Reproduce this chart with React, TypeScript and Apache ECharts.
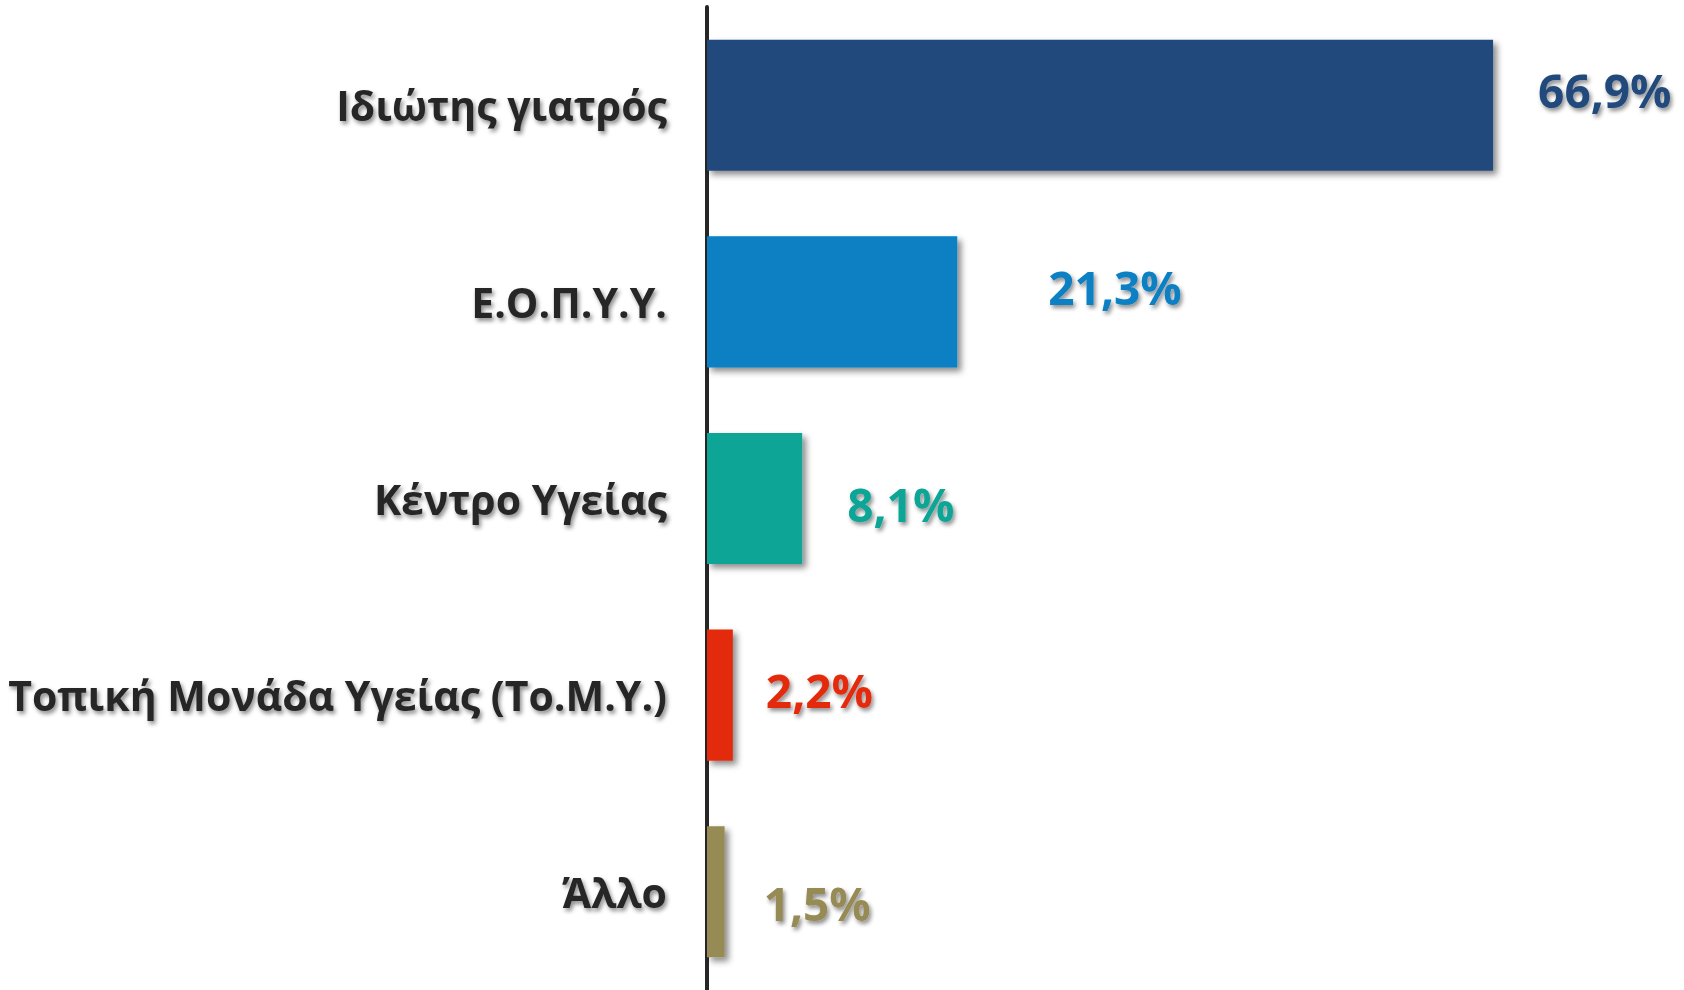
import React, { useEffect, useRef } from "react";
import * as echarts from "echarts";

const categories = [
  "Ιδιώτης γιατρός",
  "Ε.Ο.Π.Υ.Υ.",
  "Κέντρο Υγείας",
  "Τοπική Μονάδα Υγείας (Το.Μ.Υ.)",
  "Άλλο",
];
const values = [66.9, 21.3, 8.1, 2.2, 1.5];
const colors = ["#21497B", "#087FC3", "#0AA595", "#E42B0B", "#968A55"];

// label placement tweaks (style only)
const labelDistance = [45, 91, 45, 33, 39];
const labelOffsetY = [-15, -15, 5, -5, 11];

const FONT = "'Open Sans', 'DejaVu Sans', sans-serif";

export default function App() {
  const ref = useRef<HTMLDivElement>(null);
  useEffect(() => {
    if (!ref.current) return;
    const chart = echarts.init(ref.current, null, { renderer: "svg" });
    chart.setOption({
      animation: false,
      backgroundColor: "#ffffff",
      grid: { left: 707, top: 7, width: 940, height: 990, containLabel: false },
      xAxis: {
        type: "value",
        min: 0,
        max: 80,
        show: false,
        splitLine: { show: false },
      },
      yAxis: {
        type: "category",
        data: categories,
        inverse: true,
        offset: 2,
        axisLine: { show: true, lineStyle: { color: "#262626", width: 4 } },
        axisTick: { show: false },
        splitLine: { show: false },
        axisLabel: {
          margin: 38,
          color: "#262626",
          fontFamily: FONT,
          fontWeight: "bold",
          fontSize: 41,
          textShadowColor: "rgba(0,0,0,0.45)",
          textShadowBlur: 4,
          textShadowOffsetX: 2,
          textShadowOffsetY: 3,
        },
      },
      series: [
        {
          type: "bar",
          barCategoryGap: "33.3%",
          data: values.map((v, i) => ({
            value: v,
            itemStyle: {
              color: colors[i],
              shadowColor: "rgba(0,0,0,0.45)",
              shadowBlur: 6,
              shadowOffsetX: 4,
              shadowOffsetY: 4,
            },
            label: {
              show: true,
              position: "right",
              distance: labelDistance[i],
              offset: [0, labelOffsetY[i]],
              color: colors[i],
              formatter: () => `${v.toFixed(1).replace(".", ",")}%`,
              fontFamily: FONT,
              fontWeight: "bold",
              fontSize: 46,
              textShadowColor: "rgba(0,0,0,0.45)",
              textShadowBlur: 4,
              textShadowOffsetX: 2,
              textShadowOffsetY: 3,
            },
          })),
        },
      ],
    });
    return () => chart.dispose();
  }, []);
  return (
    <div
      ref={ref}
      style={{ position: "fixed", left: 0, top: 0, width: 1684, height: 990 }}
    />
  );
}
